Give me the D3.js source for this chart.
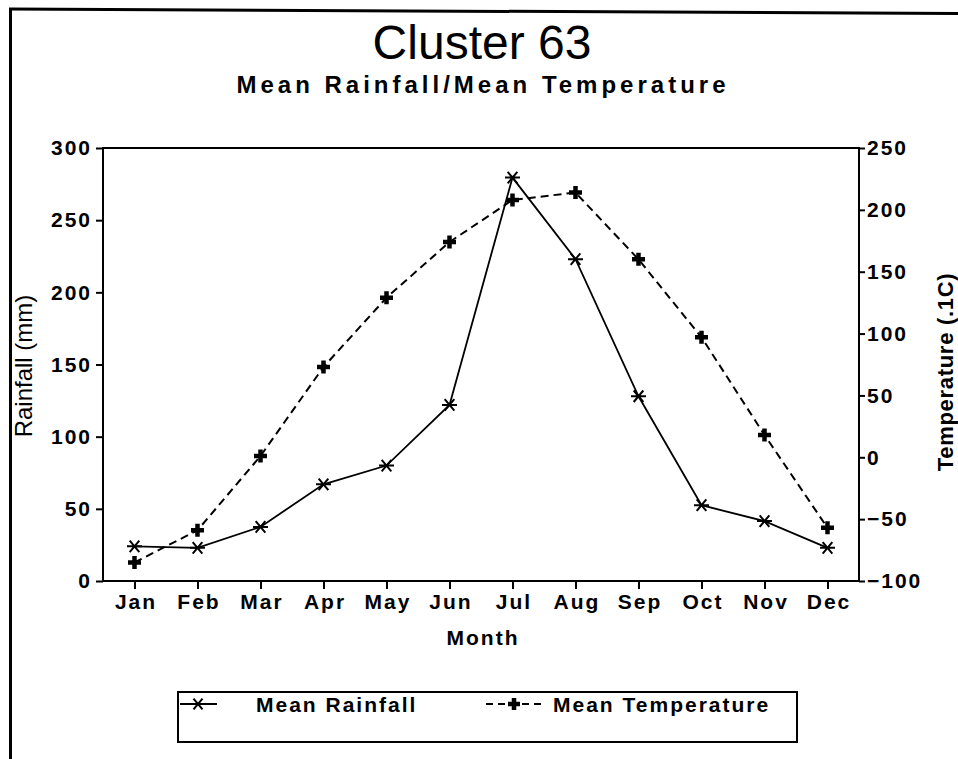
<!DOCTYPE html>
<html>
<head>
<meta charset="utf-8">
<script src="https://cdn.jsdelivr.net/npm/d3@7"></script>
<style>
  html, body { margin: 0; padding: 0; background: #fff; }
  svg { display: block; }
  text { font-family: "Liberation Sans", Arial, Helvetica, sans-serif; fill: #000; }
</style>
</head>
<body>
<script>
const months = ["Jan","Feb","Mar","Apr","May","Jun","Jul","Aug","Sep","Oct","Nov","Dec"];
const rainfall = [24, 23, 37.5, 67, 80, 122, 279.5, 223, 128, 52.5, 41.5, 23];
const temperature = [-85, -59, 1, 73, 129, 174, 208, 214, 160, 97, 18, -57];
const rainTicks = [0, 50, 100, 150, 200, 250, 300];
const tempTicks = [-100, -50, 0, 50, 100, 150, 200, 250];
const seriesNames = ["Mean Rainfall", "Mean Temperature"];

const W = 958, H = 759;
const pLeft = 103, pRight = 859, pTop = 148, pBottom = 581;

const svg = d3.select("body").append("svg").attr("width", W).attr("height", H);

// outer frame (left and top edges only, as in scan)
svg.append("line").attr("x1", 10.5).attr("y1", 8.5).attr("x2", 10.5).attr("y2", H)
  .attr("stroke", "#000").attr("stroke-width", 3);
svg.append("line").attr("x1", 9).attr("y1", 9).attr("x2", W).attr("y2", 13.5)
  .attr("stroke", "#000").attr("stroke-width", 3);

const x = d3.scalePoint().domain(months).range([pLeft, pRight]).padding(0.5);
const yL = d3.scaleLinear().domain([0, 300]).range([pBottom, pTop]);
const yR = d3.scaleLinear().domain([-100, 250]).range([pBottom, pTop]);

// titles
svg.append("text").attr("x", 482).attr("y", 59).attr("text-anchor", "middle")
  .style("font-size", "48px").text("Cluster 63");
svg.append("text").attr("x", 483).attr("y", 93).attr("text-anchor", "middle")
  .style("font-size", "24px").style("font-weight", "bold").style("letter-spacing", "4px")
  .text("Mean Rainfall/Mean Temperature");

// plot box
svg.append("rect").attr("x", pLeft).attr("y", pTop).attr("width", pRight - pLeft).attr("height", pBottom - pTop)
  .attr("fill", "none").attr("stroke", "#000").attr("stroke-width", 2);

function styleAxis(g) {
  g.select(".domain").remove();
  g.selectAll(".tick line").attr("stroke", "#000").attr("stroke-width", 2);
  g.selectAll(".tick text").style("font-size", "21px").style("font-weight", "bold")
    .style("letter-spacing", "2px")
    .style("font-family", '"Liberation Sans", Arial, sans-serif').attr("fill", "#000");
}

svg.append("g").attr("transform", `translate(${pLeft},0)`)
  .call(d3.axisLeft(yL).tickValues(rainTicks).tickSize(7).tickPadding(6))
  .call(styleAxis)
  .selectAll(".tick text").attr("dx", "2px");

svg.append("g").attr("transform", `translate(${pRight},0)`)
  .call(d3.axisRight(yR).tickValues(tempTicks).tickSize(6).tickPadding(2))
  .call(styleAxis);

svg.append("g").attr("transform", `translate(0,${pBottom})`)
  .call(d3.axisBottom(x).tickSize(8).tickPadding(5))
  .call(styleAxis)
  .selectAll(".tick text").attr("dx", "1px");

// axis titles
svg.append("text").attr("x", 483).attr("y", 645).attr("text-anchor", "middle")
  .style("font-size", "21px").style("font-weight", "bold").style("letter-spacing", "2px").text("Month");
svg.append("text").attr("transform", "translate(32,366) rotate(-90)").attr("text-anchor", "middle")
  .style("font-size", "24px").text("Rainfall (mm)");
svg.append("text").attr("transform", "translate(953,372) rotate(-90)").attr("text-anchor", "middle")
  .style("font-size", "22px").style("font-weight", "bold").style("letter-spacing", "0.7px").text("Temperature (.1C)");

// markers
function star(g, cx, cy, r) {
  const a = 50 * Math.PI / 180;
  const dx = r * Math.cos(a), dy = r * Math.sin(a);
  g.append("path")
    .attr("d", `M${cx - r},${cy}L${cx + r},${cy}M${cx - dx},${cy - dy}L${cx + dx},${cy + dy}M${cx - dx},${cy + dy}L${cx + dx},${cy - dy}`)
    .attr("stroke", "#000").attr("stroke-width", 2).attr("fill", "none");
}
function plus(g, cx, cy, r) {
  g.append("path")
    .attr("d", `M${cx - r},${cy}L${cx + r},${cy}M${cx},${cy - r}L${cx},${cy + r}`)
    .attr("stroke", "#000").attr("stroke-width", 4.5).attr("fill", "none");
}

// lines
const rainLine = d3.line().x((d, i) => x(months[i])).y(d => yL(d));
const tempLine = d3.line().x((d, i) => x(months[i])).y(d => yR(d));

svg.append("path").attr("d", tempLine(temperature)).attr("fill", "none")
  .attr("stroke", "#000").attr("stroke-width", 2).attr("stroke-dasharray", "8,5");
svg.append("path").attr("d", rainLine(rainfall)).attr("fill", "none")
  .attr("stroke", "#000").attr("stroke-width", 1.8);

const mk = svg.append("g");
temperature.forEach((d, i) => plus(mk, x(months[i]), yR(d), 6.5));
rainfall.forEach((d, i) => star(mk, x(months[i]), yL(d), 7.5));

// legend
const lg = svg.append("g");
lg.append("rect").attr("x", 178).attr("y", 692).attr("width", 619).attr("height", 50)
  .attr("fill", "none").attr("stroke", "#000").attr("stroke-width", 2);
lg.append("line").attr("x1", 180).attr("x2", 217).attr("y1", 704).attr("y2", 704)
  .attr("stroke", "#000").attr("stroke-width", 1.8);
star(lg, 198, 704, 7);
lg.append("text").attr("x", 256).attr("y", 711.5).style("font-size", "21px").style("font-weight", "bold")
  .style("letter-spacing", "2px").text(seriesNames[0]);
lg.append("line").attr("x1", 486).attr("x2", 545).attr("y1", 704).attr("y2", 704)
  .attr("stroke", "#000").attr("stroke-width", 2).attr("stroke-dasharray", "7,5");
plus(lg, 514, 704, 6);
lg.append("text").attr("x", 553).attr("y", 711.5).style("font-size", "21px").style("font-weight", "bold")
  .style("letter-spacing", "2px").text(seriesNames[1]);
</script>
</body>
</html>
